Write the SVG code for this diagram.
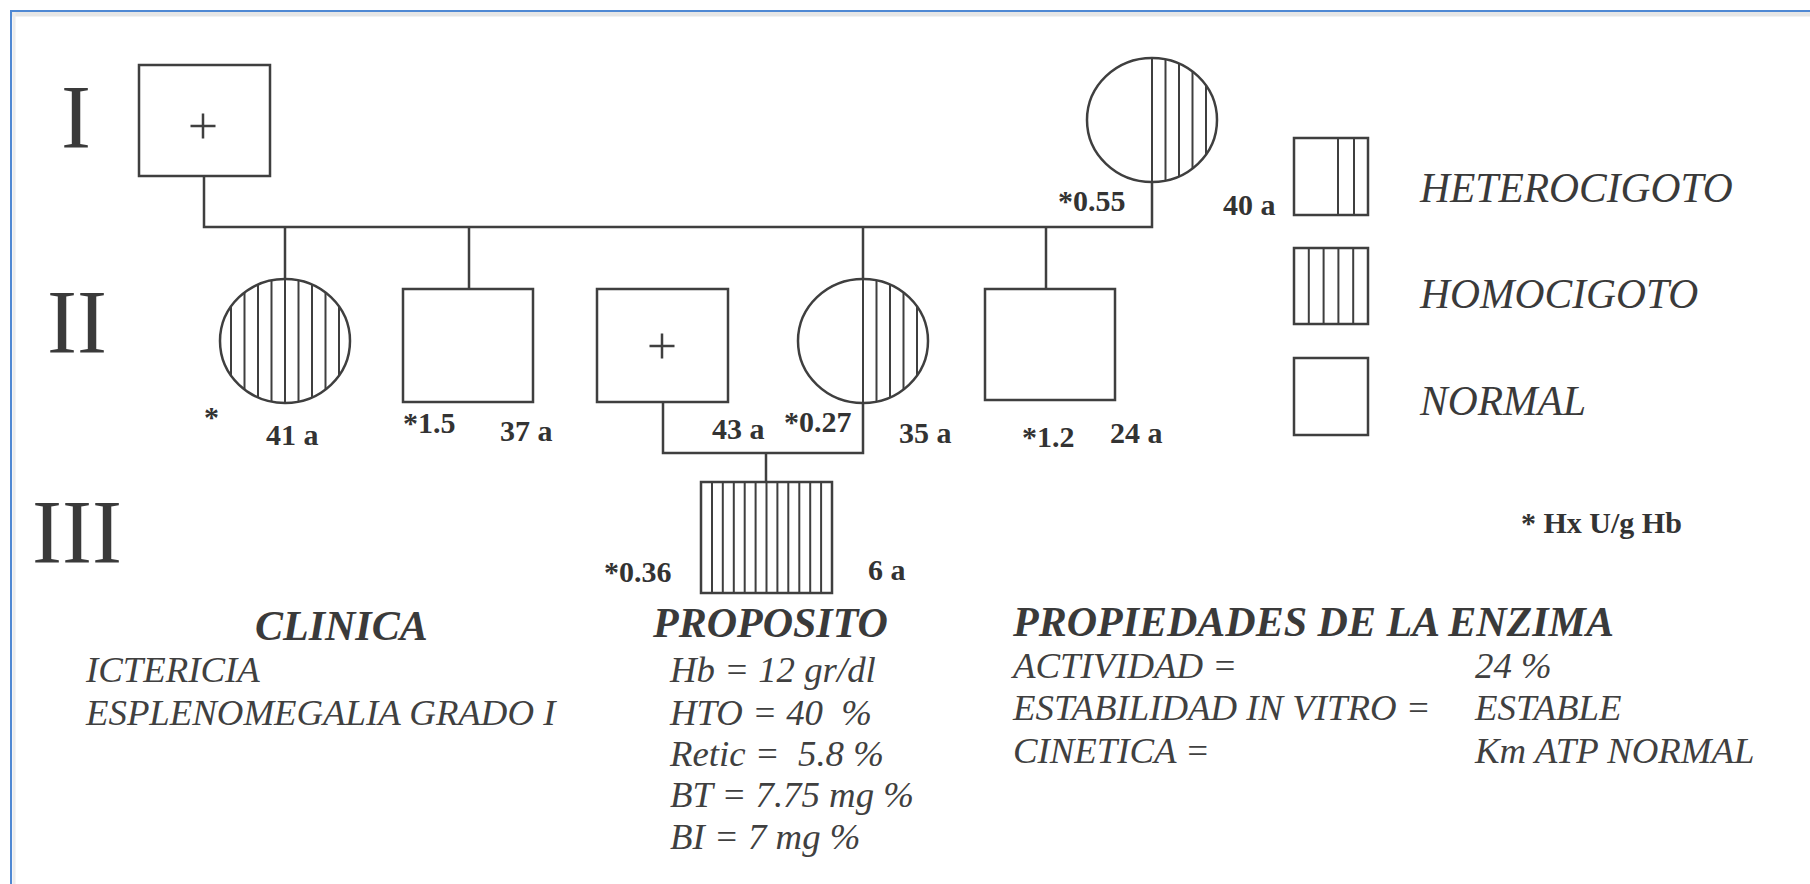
<svg xmlns="http://www.w3.org/2000/svg" width="1810" height="884" viewBox="0 0 1810 884">
<defs>
<style>
.ln{stroke:#3f3f3f;stroke-width:2.5;fill:none}
.sh{stroke:#3f3f3f;stroke-width:2.5;fill:#fff}
.ht{stroke:#3f3f3f;stroke-width:2}
.rn{font-family:"Liberation Serif","Times New Roman",serif;font-size:90px;fill:#3a3a3a;text-anchor:middle}
.lb{font-family:"Liberation Serif","Times New Roman",serif;font-size:30px;font-weight:bold;fill:#333}
.lg{font-family:"Liberation Serif","Times New Roman",serif;font-size:41.5px;font-style:italic;fill:#3a3a3a}
.hd{font-family:"Liberation Serif","Times New Roman",serif;font-size:42px;font-style:italic;font-weight:bold;fill:#3a3a3a}
.tx{font-family:"Liberation Serif","Times New Roman",serif;font-size:36.8px;font-style:italic;fill:#404040;white-space:pre}
</style>
</defs>
<rect width="1810" height="884" fill="#fff"/>
<g id="frame">
<line x1="12" y1="14" x2="1810" y2="14" stroke="#e6e6e6" stroke-width="5"/>
<line x1="14" y1="12" x2="14" y2="884" stroke="#ececec" stroke-width="3"/>
<path d="M1810,11 H11 V884" fill="none" stroke="#4f88d3" stroke-width="2"/>
</g>
<g id="generations">
<text class="rn" x="76" y="148">I</text>
<text class="rn" x="77" y="353">II</text>
<text class="rn" x="77" y="563">III</text>
</g>
<g id="connectors" class="ln">
<path d="M204,176 V227 H1152 V182"/>
<line x1="285" y1="227" x2="285" y2="279"/>
<line x1="469" y1="227" x2="469" y2="289"/>
<line x1="863" y1="227" x2="863" y2="279"/>
<line x1="1046" y1="227" x2="1046" y2="289"/>
<path d="M663,402 V453 H863 V403"/>
<line x1="766" y1="453" x2="766" y2="482"/>
</g>
<g id="I-1">
<rect class="sh" x="139" y="65" width="131" height="111"/>
<path class="ln" d="M190.5,126 H215.5 M203,113.5 V138.5"/>
</g>
<g id="I-2">
<ellipse class="sh" cx="1152" cy="120" rx="65" ry="62"/>
<g class="ht">
<line x1="1152" y1="58" x2="1152" y2="182"/>
<line x1="1165.5" y1="59.4" x2="1165.5" y2="180.6"/>
<line x1="1179" y1="63.6" x2="1179" y2="176.4"/>
<line x1="1192.5" y1="71.5" x2="1192.5" y2="168.5"/>
<line x1="1206" y1="85.5" x2="1206" y2="154.5"/>
</g>
<text class="lb" x="1058" y="211">*0.55</text>
<text class="lb" x="1223" y="215">40 a</text>
</g>
<g id="II-1">
<ellipse class="sh" cx="285" cy="341" rx="65" ry="62"/>
<g class="ht">
<line x1="231" y1="306.5" x2="231" y2="375.5"/>
<line x1="244.5" y1="292.5" x2="244.5" y2="389.5"/>
<line x1="258" y1="284.6" x2="258" y2="397.4"/>
<line x1="271.5" y1="280.4" x2="271.5" y2="401.6"/>
<line x1="285" y1="279" x2="285" y2="403"/>
<line x1="298.5" y1="280.4" x2="298.5" y2="401.6"/>
<line x1="312" y1="284.6" x2="312" y2="397.4"/>
<line x1="325.5" y1="292.5" x2="325.5" y2="389.5"/>
<line x1="339" y1="306.5" x2="339" y2="375.5"/>
</g>
<text class="lb" x="204" y="427">*</text>
<text class="lb" x="266" y="445">41 a</text>
</g>
<g id="II-2">
<rect class="sh" x="403" y="289" width="130" height="113"/>
<text class="lb" x="403" y="433">*1.5</text>
<text class="lb" x="500" y="441">37 a</text>
</g>
<g id="II-3">
<rect class="sh" x="597" y="289" width="131" height="113"/>
<path class="ln" d="M649.5,346 H674.5 M662,333.5 V358.5"/>
<text class="lb" x="712" y="439">43 a</text>
</g>
<g id="II-4">
<ellipse class="sh" cx="863" cy="341" rx="65" ry="62"/>
<g class="ht">
<line x1="863" y1="279" x2="863" y2="403"/>
<line x1="876.5" y1="280.4" x2="876.5" y2="401.6"/>
<line x1="890" y1="284.6" x2="890" y2="397.4"/>
<line x1="903.5" y1="292.5" x2="903.5" y2="389.5"/>
<line x1="917" y1="306.5" x2="917" y2="375.5"/>
</g>
<text class="lb" x="784" y="432">*0.27</text>
<text class="lb" x="899" y="443">35 a</text>
</g>
<g id="II-5">
<rect class="sh" x="985" y="289" width="130" height="111"/>
<text class="lb" x="1022" y="447">*1.2</text>
<text class="lb" x="1110" y="443">24 a</text>
</g>
<g id="III-1">
<rect class="sh" x="701" y="482" width="131" height="111"/>
<path class="ht" d="M712,482V593M722.8,482V593M733.8,482V593M744.7,482V593M755.6,482V593M766.5,482V593M777.4,482V593M788.3,482V593M799.3,482V593M810.2,482V593M821.1,482V593"/>
<text class="lb" x="604" y="582">*0.36</text>
<text class="lb" x="868" y="580">6 a</text>
</g>
<g id="legend">
<g id="leg-het">
<rect class="sh" x="1294" y="138" width="74" height="77"/>
<path class="ht" d="M1338,138V215M1354,138V215"/>
<text class="lg" x="1420" y="202">HETEROCIGOTO</text>
</g>
<g id="leg-homo">
<rect class="sh" x="1294" y="248" width="74" height="76"/>
<path class="ht" d="M1308.8,248V324M1323.6,248V324M1338.4,248V324M1353.2,248V324"/>
<text class="lg" x="1420" y="308">HOMOCIGOTO</text>
</g>
<g id="leg-normal">
<rect class="sh" x="1294" y="358" width="74" height="77"/>
<text class="lg" x="1420" y="415">NORMAL</text>
</g>
<text class="lb" x="1521" y="533" font-size="27">* Hx U/g Hb</text>
</g>
<g id="clinica">
<text class="hd" x="255" y="640">CLINICA</text>
<text class="tx" x="86" y="682">ICTERICIA</text>
<text class="tx" x="86" y="725">ESPLENOMEGALIA GRADO I</text>
</g>
<g id="proposito">
<text class="hd" x="653" y="637">PROPOSITO</text>
<text class="tx" x="670" y="682">Hb = 12 gr/dl</text>
<text class="tx" x="670" y="725">HTO = 40  %</text>
<text class="tx" x="670" y="766">Retic =  5.8 %</text>
<text class="tx" x="670" y="807">BT = 7.75 mg %</text>
<text class="tx" x="670" y="849">BI = 7 mg %</text>
</g>
<g id="enzima">
<text class="hd" x="1013" y="636">PROPIEDADES DE LA ENZIMA</text>
<text class="tx" x="1013" y="678">ACTIVIDAD =</text>
<text class="tx" x="1475" y="678">24 %</text>
<text class="tx" x="1013" y="720">ESTABILIDAD IN VITRO =</text>
<text class="tx" x="1475" y="720">ESTABLE</text>
<text class="tx" x="1013" y="763">CINETICA =</text>
<text class="tx" x="1475" y="763">Km ATP NORMAL</text>
</g>
</svg>
